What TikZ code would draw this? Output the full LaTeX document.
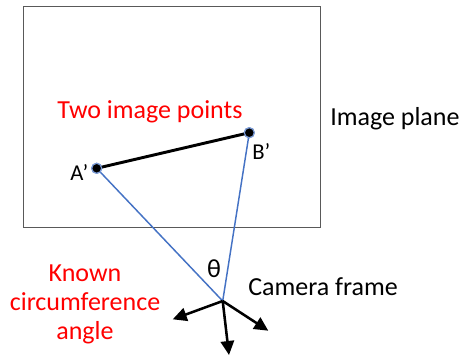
\documentclass[tikz,border=0pt]{standalone}
\usepackage{fontspec}
\setmainfont{Carlito}
\usetikzlibrary{arrows.meta}
\definecolor{offblue}{HTML}{4472C4}
\definecolor{framegray}{HTML}{595959}
\definecolor{txtred}{HTML}{FF0000}
\tikzset{
  plane/.style={draw=framegray, line width=1pt},
  ray/.style={draw=offblue, line width=1.1pt},
  seg/.style={draw=black, line width=2.2pt},
  pt/.style={circle, fill=black, draw=offblue!70, line width=0.9pt, minimum size=7.5pt, inner sep=0pt},
  axis/.style={draw=black, line width=1.9pt, -{Triangle[length=10.5pt, width=10pt]}},
  lbl/.style={font=\fontsize{19.5}{23}\selectfont, inner sep=0pt},
  redlbl/.style={lbl, text=txtred},
  smalllbl/.style={font=\fontsize{17}{20}\selectfont, inner sep=0pt}
}
\begin{document}
\begin{tikzpicture}[x=0.75pt, y=-0.75pt]
\useasboundingbox (0,0) rectangle (466,358);
\node[plane, draw, minimum width=297.3*0.75pt, minimum height=221.5*0.75pt, inner sep=0pt, anchor=north west] (frame) at (22.7,5.5) {};
\node[pt] (A) at (96.7,168.3) {};
\node[pt] (B) at (249.3,132.7) {};
\coordinate (C) at (222.7,301);
\coordinate (X1) at (172.7,319.3);
\coordinate (X2) at (229,355);
\coordinate (X3) at (268.3,330.7);
\draw[seg] (A.center) -- (B.center);
\draw[ray] (A.center) -- (C);
\draw[ray] (B.center) -- (C);
\draw[axis] (C) -- (X1);
\draw[axis] (C) -- (X2);
\draw[axis] (C) -- (X3);
\node[pt] at (A) {};
\node[pt] at (B) {};
\node[redlbl, anchor=base] (two) at (150,118) {Two image points};
\node[lbl, anchor=base west] (iplane) at (330,125) {Image plane};
\node[lbl, anchor=base west] (cam) at (248,295) {Camera frame};
\node[redlbl, anchor=base] (k1) at (85,281) {Known};
\node[redlbl, anchor=base] (k2) at (85,310.5) {circumference};
\node[redlbl, anchor=base] (k3) at (85,339) {angle};
\node[smalllbl, anchor=base west] (Al) at (70,180.7) {A’};
\node[smalllbl, anchor=base west] (Bl) at (252,159) {B’};
\node[lbl] (th) at (214,269) {θ};
\end{tikzpicture}
\end{document}
